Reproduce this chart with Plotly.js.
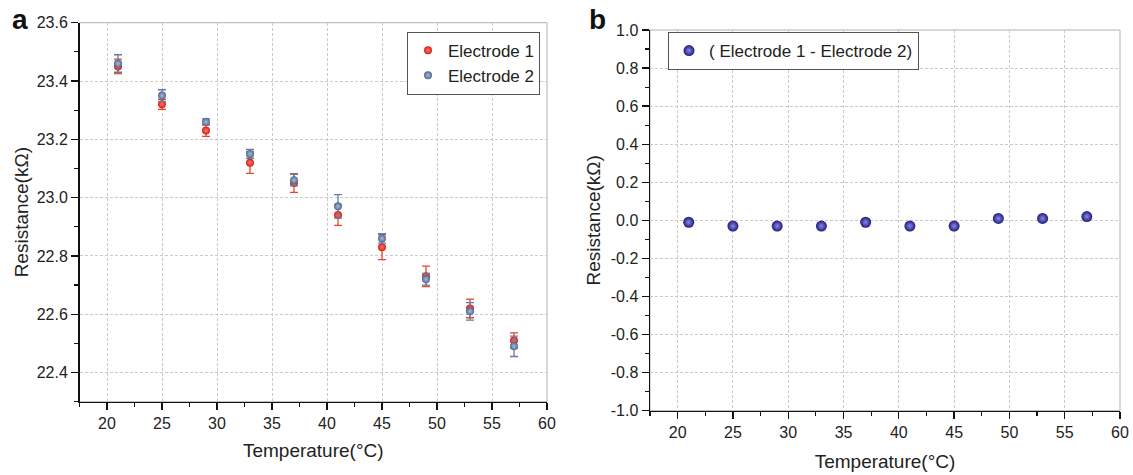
<!DOCTYPE html>
<html>
<head>
<meta charset="utf-8">
<script src="https://cdn.plot.ly/plotly-3.0.1.min.js"></script>
<style>html,body{margin:0;padding:0;background:#fff;}#chart{width:1133px;height:475px;}</style>
</head>
<body>
<div id="chart"></div>
<script>
// ---- data ----
const temperature = [21, 25, 29, 33, 37, 41, 45, 49, 53, 57];
const electrode1 = [23.45, 23.32, 23.23, 23.12, 23.05, 22.94, 22.83, 22.73, 22.62, 22.51];
const electrode1Err = [0.025, 0.017, 0.02, 0.037, 0.032, 0.035, 0.043, 0.035, 0.032, 0.026];
const electrode2 = [23.46, 23.35, 23.26, 23.15, 23.06, 22.97, 22.86, 22.72, 22.61, 22.49];
const electrode2Err = [0.03, 0.02, 0.01, 0.015, 0.02, 0.04, 0.016, 0.02, 0.03, 0.035];
const difference = [-0.01, -0.03, -0.03, -0.03, -0.01, -0.03, -0.03, 0.01, 0.01, 0.02];
const diffTickVals = [-1.0, -0.8, -0.6, -0.4, -0.2, 0.0, 0.2, 0.4, 0.6, 0.8, 1.0];
const diffTickText = ["-1.0", "-0.8", "-0.6", "-0.4", "-0.2", "0.0", "0.2", "0.4", "0.6", "0.8", "1.0"];
const xTitle = "Temperature(°C)";
const yTitle = "Resistance(kΩ)";

const W = 1133, H = 475;
const FONT = "Liberation Sans, Arial, sans-serif";

const traces = [
  {
    x: temperature, y: electrode1, name: "Electrode 1", type: "scatter", mode: "markers",
    xaxis: "x", yaxis: "y",
    marker: {size: 8, color: "#d91c1c", gradient: {type: "radial", color: "#ff7a6a"}},
    error_y: {type: "data", array: electrode1Err, visible: true, color: "#e4472e", thickness: 1.3, width: 4},
    legend: "legend"
  },
  {
    x: temperature, y: electrode2, name: "Electrode 2", type: "scatter", mode: "markers",
    xaxis: "x", yaxis: "y",
    marker: {size: 8, color: "#4f6a90", gradient: {type: "radial", color: "#a8bcd6"}},
    error_y: {type: "data", array: electrode2Err, visible: true, color: "#687c9a", thickness: 1.3, width: 4},
    legend: "legend"
  },
  {
    x: temperature, y: difference, name: "( Electrode 1 - Electrode 2)", type: "scatter", mode: "markers",
    xaxis: "x2", yaxis: "y2",
    marker: {size: 11, color: "#1e1a80", gradient: {type: "radial", color: "#8a8ae0"}},
    legend: "legend2"
  }
];

function px(x){ return x / W; }
function py(y){ return 1 - y / H; }

const gridStyle = {showgrid: true, gridcolor: "#d3c6c6", griddash: "3px,2px", gridwidth: 1};
const axisCommon = Object.assign({
  showline: true, linecolor: "#111", linewidth: 1.5, mirror: false,
  ticks: "outside", ticklen: 7, tickwidth: 1.3, tickcolor: "#111",
  tickfont: {family: FONT, size: 16, color: "#222"},
  zeroline: false
}, gridStyle);

const layout = {
  width: W, height: H,
  margin: {l: 0, r: 0, t: 0, b: 0},
  paper_bgcolor: "#fff", plot_bgcolor: "#fff",
  font: {family: FONT, color: "#222"},
  xaxis: Object.assign({}, axisCommon, {
    domain: [px(79.5), px(547)], range: [17.5, 60], dtick: 5, tick0: 0, anchor: "y",
    minor: {ticks: "outside", ticklen: 4, dtick: 2.5, tick0: 0, tickcolor: "#111", tickwidth: 1.2, showgrid: false},
    title: {text: xTitle, font: {family: FONT, size: 19, color: "#222"}, standoff: 12}
  }),
  yaxis: Object.assign({}, axisCommon, {
    domain: [py(401.7), py(22.7)], range: [22.3, 23.6], dtick: 0.2, tick0: 0, tickformat: ".1f", anchor: "x",
    minor: {ticks: "outside", ticklen: 4, dtick: 0.1, tick0: 0, tickcolor: "#111", tickwidth: 1.2, showgrid: false},
    title: {text: yTitle, font: {family: FONT, size: 19, color: "#222"}, standoff: 3}
  }),
  xaxis2: Object.assign({}, axisCommon, {
    domain: [px(650), px(1120)], range: [17.5, 60], dtick: 5, tick0: 0, anchor: "y2",
    minor: {ticks: "outside", ticklen: 4, dtick: 2.5, tick0: 0, tickcolor: "#111", tickwidth: 1.2, showgrid: false},
    title: {text: xTitle, font: {family: FONT, size: 19, color: "#222"}, standoff: 14}
  }),
  yaxis2: Object.assign({}, axisCommon, {
    domain: [py(410.7), py(30)], range: [-1, 1], tickvals: diffTickVals, ticktext: diffTickText, anchor: "x2",
    minor: {ticks: "outside", ticklen: 4, dtick: 0.1, tick0: 0, tickcolor: "#111", tickwidth: 1.2, showgrid: false},
    title: {text: yTitle, font: {family: FONT, size: 19, color: "#222"}, standoff: 5}
  }),
  legend: {
    x: px(540), xanchor: "right", y: py(31.7), yanchor: "top",
    bgcolor: "#fff", bordercolor: "#555", borderwidth: 1,
    font: {family: FONT, size: 17, color: "#222"}, tracegroupgap: 0
  },
  legend2: {
    x: px(668), xanchor: "left", y: py(32), yanchor: "top",
    bgcolor: "#fff", bordercolor: "#555", borderwidth: 1,
    font: {family: FONT, size: 17, color: "#222"}
  },
  showlegend: true,
  shapes: [
    {type: "rect", xref: "x domain", yref: "y domain", x0: 0, x1: 1, y0: 0, y1: 1, line: {color: "#b5b0b0", width: 1}, layer: "below"},
    {type: "rect", xref: "x2 domain", yref: "y2 domain", x0: 0, x1: 1, y0: 0, y1: 1, line: {color: "#b5b0b0", width: 1}, layer: "below"}
  ],
  annotations: [
    {text: "<b>a</b>", xref: "paper", yref: "paper", x: px(20), y: py(19), xanchor: "center", yanchor: "middle", showarrow: false, font: {family: FONT, size: 28, color: "#111"}},
    {text: "<b>b</b>", xref: "paper", yref: "paper", x: px(598), y: py(19), xanchor: "center", yanchor: "middle", showarrow: false, font: {family: FONT, size: 28, color: "#111"}}
  ]
};

Plotly.newPlot("chart", traces, layout, {staticPlot: true, displayModeBar: false});
</script>
</body>
</html>
